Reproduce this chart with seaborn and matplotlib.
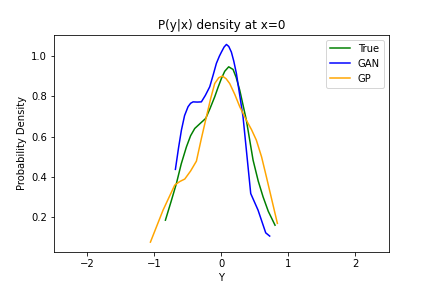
import matplotlib
matplotlib.use("Agg")
import matplotlib.pyplot as plt
import seaborn as sns

# values
true_x = [-0.836, -0.75, -0.672, -0.6, -0.522, -0.46, -0.398, -0.32, -0.234, -0.17, -0.100, -0.05, 0.0, 0.05, 0.109, 0.174, 0.22, 0.274, 0.373, 0.473, 0.55, 0.622, 0.70, 0.801]
true_y = [0.186, 0.28, 0.368, 0.465, 0.550, 0.605, 0.641, 0.665, 0.691, 0.740, 0.798, 0.845, 0.889, 0.925, 0.947, 0.934, 0.895, 0.831, 0.682, 0.484, 0.38, 0.302, 0.23, 0.161]

gan_x = [-0.687, -0.64, -0.597, -0.55, -0.498, -0.46, -0.423, -0.36, -0.299, -0.24, -0.174, -0.12, -0.075, -0.03, 0.0, 0.04, 0.075, 0.11, 0.149, 0.185, 0.224, 0.323, 0.438, 0.547, 0.662, 0.721]
gan_y = [0.438, 0.545, 0.633, 0.705, 0.749, 0.766, 0.773, 0.772, 0.773, 0.805, 0.848, 0.91, 0.964, 1.0, 1.02, 1.045, 1.058, 1.048, 1.02, 0.975, 0.914, 0.699, 0.318, 0.236, 0.123, 0.107]

gp_x = [-1.060, -0.871, -0.697, -0.62, -0.547, -0.46, -0.373, -0.30, -0.224, -0.16, -0.100, -0.04, 0.015, 0.07, 0.124, 0.20, 0.274, 0.373, 0.45, 0.522, 0.60, 0.672, 0.836]
gp_y = [0.077, 0.236, 0.360, 0.378, 0.390, 0.430, 0.479, 0.590, 0.699, 0.790, 0.864, 0.893, 0.901, 0.888, 0.864, 0.810, 0.749, 0.682, 0.635, 0.583, 0.50, 0.401, 0.170]

fig, ax = plt.subplots(figsize=(6, 4), dpi=72)
fig.subplots_adjust(left=0.125, right=0.9, bottom=0.125, top=0.88)
sns.lineplot(x=true_x, y=true_y, color='green', label='True', ax=ax)
sns.lineplot(x=gan_x, y=gan_y, color='blue', label='GAN', ax=ax)
sns.lineplot(x=gp_x, y=gp_y, color='orange', label='GP', ax=ax)
ax.set_xlim(-2.5, 2.5)
ax.set_title('P(y|x) density at x=0')
ax.set_xlabel('Y')
ax.set_ylabel('Probability Density')
ax.legend(loc='upper right')
fig.savefig('out.png', dpi=72)
